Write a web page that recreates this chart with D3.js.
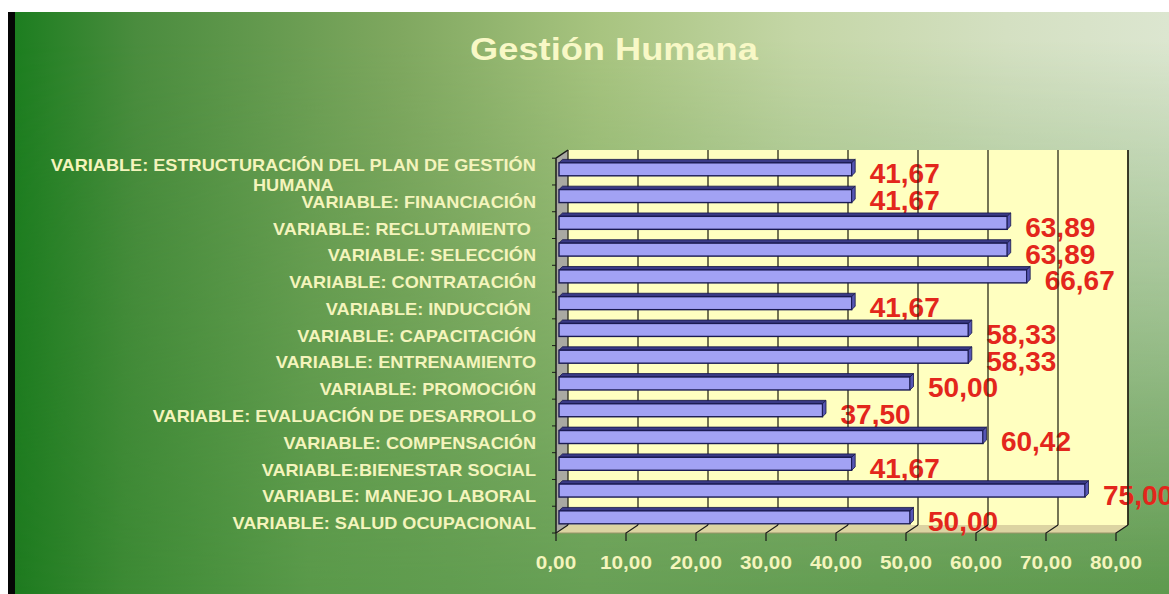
<!DOCTYPE html>
<html>
<head>
<meta charset="utf-8">
<script src="https://cdn.jsdelivr.net/npm/d3@7"></script>
<style>
  body { margin: 0; background: #ffffff; }
  text { font-family: "Liberation Sans", Arial, sans-serif; font-weight: bold; white-space: pre; }
</style>
</head>
<body>
<div id="canvas"></div>
<script>
"use strict"

/* data, top row first */
let categories = [
  "VARIABLE: ESTRUCTURACIÓN DEL PLAN DE GESTIÓN HUMANA",
  "VARIABLE: FINANCIACIÓN",
  "VARIABLE: RECLUTAMIENTO ",
  "VARIABLE: SELECCIÓN",
  "VARIABLE: CONTRATACIÓN",
  "VARIABLE: INDUCCIÓN ",
  "VARIABLE: CAPACITACIÓN",
  "VARIABLE: ENTRENAMIENTO",
  "VARIABLE: PROMOCIÓN",
  "VARIABLE: EVALUACIÓN DE DESARROLLO",
  "VARIABLE: COMPENSACIÓN",
  "VARIABLE:BIENESTAR SOCIAL",
  "VARIABLE: MANEJO LABORAL",
  "VARIABLE: SALUD OCUPACIONAL"
];
let values = [41.67, 41.67, 63.89, 63.89, 66.67, 41.67, 58.33, 58.33, 50.00, 37.50, 60.42, 41.67, 75.00, 50.00];
let xTicks = [0, 10, 20, 30, 40, 50, 60, 70, 80];
let title = "Gestión Humana";

let W = 1169, H = 594;
let DX = 12, DY = -8;          // depth offset of the 3D back wall
let textColor = "#f4f4bc";
let comma = d => d3.format(".2f")(d).replace(".", ",");

let drawing = d3.select("#canvas")
  .append("svg")
  .attr("width", W)
  .attr("height", H);

let defs = drawing.append("defs");

/* background: pale at top right, green lower down */
let topGrad = defs.append("linearGradient").attr("id", "topGrad");
[[0, "#1a7d1e"], [0.11, "#4a8c3e"], [0.34, "#80a860"], [0.51, "#a8c480"],
 [0.68, "#c4d6a6"], [0.86, "#d4e0c2"], [1, "#dce6d0"]].forEach(s =>
  topGrad.append("stop").attr("offset", s[0]).attr("stop-color", s[1]));

let botGrad = defs.append("linearGradient").attr("id", "botGrad");
[[0, "#1c7a1e"], [0.1, "#3c8a34"], [0.26, "#5a9a4a"], [0.5, "#68a056"], [1, "#5e9a4e"]].forEach(s =>
  botGrad.append("stop").attr("offset", s[0]).attr("stop-color", s[1]));

let fade = defs.append("linearGradient").attr("id", "fade")
  .attr("x1", 0).attr("y1", 0).attr("x2", 0).attr("y2", 1);
fade.append("stop").attr("offset", 0.05).attr("stop-color", "white");
fade.append("stop").attr("offset", 1).attr("stop-color", "black");

defs.append("mask").attr("id", "fadeMask")
  .append("rect")
  .attr("x", 0).attr("y", 12).attr("width", W).attr("height", H - 12)
  .attr("fill", "url(#fade)");

drawing.append("rect")
  .attr("x", 8).attr("y", 12).attr("width", W - 8).attr("height", H - 12)
  .attr("fill", "url(#botGrad)");
drawing.append("rect")
  .attr("x", 8).attr("y", 12).attr("width", W - 8).attr("height", H - 12)
  .attr("fill", "url(#topGrad)")
  .attr("mask", "url(#fadeMask)");

/* black strip at the left edge */
drawing.append("rect")
  .attr("x", 8).attr("y", 12).attr("width", 7).attr("height", H - 12)
  .attr("fill", "#050505");

/* title */
drawing.append("text")
  .attr("transform", "translate(614,59.5) scale(1.15,1)")
  .attr("text-anchor", "middle")
  .attr("font-size", 31.5)
  .attr("fill", "#f8f8c6")
  .text(title);

/* scales */
let x = d3.scaleLinear().domain([0, 80]).range([556, 1116]);
let y = d3.scaleBand().domain(categories).range([158.2, 533]);

let wallTop = 150, wallBottom = y.range()[1] + DY;

/* back wall */
drawing.append("rect")
  .attr("x", x(0) + DX).attr("y", wallTop)
  .attr("width", x(80) - x(0)).attr("height", wallBottom - wallTop)
  .attr("fill", "#ffffc0");

/* left side wall */
drawing.append("polygon")
  .attr("points", [[x(0), y.range()[0]], [x(0) + DX, wallTop], [x(0) + DX, wallBottom], [x(0), y.range()[1]]].join(" "))
  .attr("fill", "#a9a9a2");

/* floor */
drawing.append("polygon")
  .attr("points", [[x(0), y.range()[1]], [x(0) + DX, wallBottom], [x(80) + DX, wallBottom], [x(80), y.range()[1]]].join(" "))
  .attr("fill", "#dcd4a2");
drawing.append("line")
  .attr("x1", x(0)).attr("x2", x(80))
  .attr("y1", y.range()[1]).attr("y2", y.range()[1])
  .attr("stroke", "#9a9468")
  .attr("stroke-width", 1);

/* value labels (the wall grid lines are drawn over them in the picture) */
drawing.append("g").selectAll("text")
  .data(values)
  .join("text")
  .attr("x", d => x(d) + 22)
  .attr("y", (d, i) => y(categories[i]) + y.bandwidth() / 2 + 11.7)
  .attr("font-size", 28)
  .attr("fill", "#e3261c")
  .text(d => comma(d));

/* grid lines on the back wall */
drawing.append("g").selectAll("line")
  .data(xTicks)
  .join("line")
  .attr("x1", d => x(d) + DX).attr("x2", d => x(d) + DX)
  .attr("y1", wallTop).attr("y2", wallBottom)
  .attr("stroke", "#2a2a1a")
  .attr("stroke-width", 1.3);

/* bars */
let bars = drawing.append("g").selectAll("g")
  .data(values)
  .join("g")
  .attr("transform", (d, i) => `translate(0,${y(categories[i])})`);

bars.append("polygon")        // top face
  .attr("points", d => [[559, 4.6], [562.5, 1.2], [x(d) + 7.5, 1.2], [x(d) + 4, 4.6]].join(" "))
  .attr("fill", "#3a3a86")
  .attr("stroke", "#161648")
  .attr("stroke-width", 0.8);

bars.append("rect")           // front face
  .attr("x", 559)
  .attr("y", 4.6)
  .attr("width", d => x(d) + 4 - 559)
  .attr("height", 13)
  .attr("fill", "#a2a2f4")
  .attr("stroke", "#1a1a52")
  .attr("stroke-width", 1.4);

bars.append("polygon")        // end cap
  .attr("points", d => [[x(d) + 4, 4.6], [x(d) + 7.5, 1.2], [x(d) + 7.5, 14.2], [x(d) + 4, 17.6]].join(" "))
  .attr("fill", "#5656b4")
  .attr("stroke", "#161648")
  .attr("stroke-width", 0.8);

/* left axis with category ticks */
drawing.append("line")
  .attr("x1", x(0)).attr("x2", x(0))
  .attr("y1", y.range()[0]).attr("y2", y.range()[1])
  .attr("stroke", "#1a1a1a").attr("stroke-width", 1.5);
drawing.append("line")
  .attr("x1", x(0)).attr("x2", x(0) + DX)
  .attr("y1", y.range()[0]).attr("y2", wallTop)
  .attr("stroke", "#1a1a1a").attr("stroke-width", 1.5);
drawing.append("g").selectAll("line")
  .data(d3.range(categories.length + 1))
  .join("line")
  .attr("x1", x(0) - 4).attr("x2", x(0))
  .attr("y1", i => y.range()[0] + i * y.step())
  .attr("y2", i => y.range()[0] + i * y.step())
  .attr("stroke", "#1a1a1a");

/* right edge of the wall */
drawing.append("line")
  .attr("x1", x(80) + DX).attr("x2", x(80) + DX)
  .attr("y1", wallTop).attr("y2", wallBottom)
  .attr("stroke", "#2a2a1a").attr("stroke-width", 1.5);

/* front value axis: slanted floor ticks, then short drops */
let ticks = drawing.append("g").selectAll("g")
  .data(xTicks)
  .join("g");
ticks.append("path")
  .attr("d", d => `M${x(d) + DX},${wallBottom}L${x(d)},${y.range()[1]}L${x(d)},${y.range()[1] + 8}`)
  .attr("fill", "none")
  .attr("stroke", "#1a1a1a")
  .attr("stroke-width", 1.2);
ticks.append("text")
  .attr("transform", d => `translate(${x(d)},569) scale(1.12,1)`)
  .attr("text-anchor", "middle")
  .attr("font-size", 18.5)
  .attr("fill", textColor)
  .text(d => comma(d));

/* category labels, wrapped like the original when too long */
let labelRight = 536, labelScale = 1.1, maxLabel = 500;
let labels = drawing.append("g").selectAll("g")
  .data(categories)
  .join("g");

labels.each(function (c) {
  let g = d3.select(this);
  let t = g.append("text")
    .attr("font-size", 16.5)
    .attr("fill", textColor);
  let mid = y(c) + y.bandwidth() / 2;
  t.text(c);
  let full = t.node().getComputedTextLength() * labelScale;
  if (full <= maxLabel) {
    t.attr("text-anchor", "end");
    g.attr("transform", `translate(${labelRight},${mid + 9.5}) scale(${labelScale},1)`);
    return;
  }
  // break at the last space that keeps the first line short enough
  let words = c.trim().split(" "), lines = [], line = [];
  words.forEach(w => {
    t.text(line.concat(w).join(" "));
    if (line.length && t.node().getComputedTextLength() * labelScale > maxLabel) {
      lines.push(line.join(" "));
      line = [w];
    } else {
      line.push(w);
    }
  });
  lines.push(line.join(" "));
  t.text(null).attr("text-anchor", "middle");
  lines.forEach((l, j) => t.append("tspan").attr("x", 0).attr("y", j * 20).text(l));
  let w = d3.max(t.selectAll("tspan").nodes(), n => n.getComputedTextLength()) * labelScale;
  g.attr("transform", `translate(${labelRight - w / 2},${mid - 1}) scale(${labelScale},1)`);
});
</script>
</body>
</html>
